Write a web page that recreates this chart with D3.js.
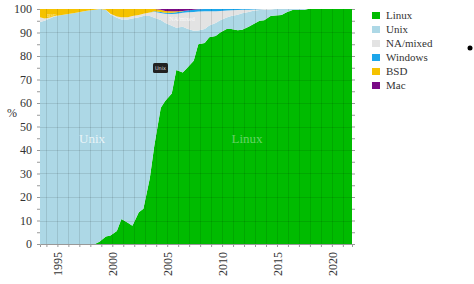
<!DOCTYPE html>
<html>
<head>
<meta charset="utf-8">
<script src="https://cdn.jsdelivr.net/npm/d3@7"></script>
<style>
  html, body { margin: 0; padding: 0; background: #fff; }
  svg { display: block; }
</style>
</head>
<body>
<div id="chart"></div>
<script>
const SERIF = "'Liberation Serif', 'Times New Roman', serif"

// TOP500 list editions (June / November)
const periods = [
  "1993-06", "1993-11", "1994-06", "1994-11", "1995-06", "1995-11", "1996-06", "1996-11",
  "1997-06", "1997-11", "1998-06", "1998-11", "1999-06", "1999-11", "2000-06", "2000-11",
  "2001-06", "2001-11", "2002-06", "2002-11", "2003-06", "2003-11", "2004-06", "2004-11",
  "2005-06", "2005-11", "2006-06", "2006-11", "2007-06", "2007-11", "2008-06", "2008-11",
  "2009-06", "2009-11", "2010-06", "2010-11", "2011-06", "2011-11", "2012-06", "2012-11",
  "2013-06", "2013-11", "2014-06", "2014-11", "2015-06", "2015-11", "2016-06", "2016-11",
  "2017-06", "2017-11", "2018-06", "2018-11", "2019-06", "2019-11", "2020-06", "2020-11",
  "2021-06", "2021-11"
]

// share of systems, percent
const linux = [
  0, 0, 0, 0, 0, 0, 0, 0, 0, 0, 0, 1, 3.2, 3.6, 5.5, 10.6,
  9, 7.8, 13.5, 15, 28, 42, 58, 61, 64, 74, 73, 75, 78, 85, 85.5, 88,
  88.5, 90, 91.5, 91.5, 91, 91.2, 92.5, 93.5, 95, 95.2, 97, 97.2, 97.4, 98.5, 99.6, 99.6,
  99.6, 100, 100, 100, 100, 100, 100, 100, 100, 100
]
const unix = [
  94.5, 95, 96.2, 97, 97.5, 97.8, 98.2, 98.5, 99, 99.4, 99.7, 99, 96.5, 94.1, 90.8, 84.9,
  86.5, 88.2, 83, 82, 69, 54.3, 37.3, 33, 28.9, 18, 19.4, 16.6, 12.7, 5.9, 6, 5,
  5.5, 5.2, 4.9, 5.5, 6.6, 7, 6.2, 5.8, 4.6, 4.6, 2.8, 2.8, 2.6, 1.5, 0.4, 0.4,
  0.4, 0, 0, 0, 0, 0, 0, 0, 0, 0
]
const naMixed = [
  2, 1, 0.3, 0, 0, 0, 0, 0, 0, 0, 0, 0, 0, 0.3, 0.5, 1,
  1, 1, 1, 1, 1.5, 2.5, 3, 4, 5, 6, 6, 7, 8, 8, 7.5, 6,
  5, 4, 3, 2.5, 2, 1.5, 1, 0.5, 0.3, 0.2, 0.2, 0, 0, 0, 0, 0,
  0, 0, 0, 0, 0, 0, 0, 0, 0, 0
]
const windows = [
  0, 0, 0, 0, 0, 0, 0, 0, 0, 0, 0, 0, 0, 0, 0, 0,
  0, 0, 0, 0, 0, 0.2, 0.4, 0.4, 0.5, 0.6, 0.6, 0.8, 1, 1, 1, 1,
  1, 0.8, 0.6, 0.5, 0.4, 0.3, 0.3, 0.2, 0.1, 0, 0, 0, 0, 0, 0, 0,
  0, 0, 0, 0, 0, 0, 0, 0, 0, 0
]
const bsd = [
  3.5, 4, 3.5, 3, 2.5, 2.2, 1.8, 1.5, 1, 0.6, 0.3, 0, 0.3, 2, 3.2, 3.5,
  3.5, 3, 2.5, 2, 1.5, 1, 1, 0.8, 0.6, 0.4, 0.2, 0, 0, 0, 0, 0,
  0, 0, 0, 0, 0, 0, 0, 0, 0, 0, 0, 0, 0, 0, 0, 0,
  0, 0, 0, 0, 0, 0, 0, 0, 0, 0
]
const mac = [
  0, 0, 0, 0, 0, 0, 0, 0, 0, 0, 0, 0, 0, 0, 0, 0,
  0, 0, 0, 0, 0, 0, 0.3, 0.8, 1, 1, 0.8, 0.6, 0.3, 0.1, 0, 0,
  0, 0, 0, 0, 0, 0, 0, 0, 0, 0, 0, 0, 0, 0, 0, 0,
  0, 0, 0, 0, 0, 0, 0, 0, 0, 0
]

const seriesNames = ["Linux", "Unix", "NA/mixed", "Windows", "BSD", "Mac"]
const seriesValues = [linux, unix, naMixed, windows, bsd, mac]
const seriesColors = ["#00bb00", "#add8e6", "#e3e3e3", "#1ca6ea", "#f5c200", "#7a0a86"]

const yTicks = [0, 10, 20, 30, 40, 50, 60, 70, 80, 90, 100]
const xLabelYears = [1995, 2000, 2005, 2010, 2015, 2020]

const width = 474
const height = 284
const margin = { top: 9, right: 122, bottom: 40, left: 40 }

// "1993-06" -> 1993.417
const toYear = p => {
  const [y, m] = p.split("-").map(Number)
  return y + (m - 1) / 12
}

const rows = periods.map((p, i) => {
  const row = { t: toYear(p) }
  seriesNames.forEach((name, k) => { row[name] = seriesValues[k][i] })
  return row
})

const x = d3.scaleLinear()
  .domain(d3.extent(rows, d => d.t))
  .range([margin.left, width - margin.right])

const y = d3.scaleLinear()
  .domain([0, 100])
  .range([height - margin.bottom, margin.top])

const layers = d3.stack().keys(seriesNames)(rows)

const area = d3.area()
  .x(d => x(d.data.t))
  .y0(d => y(d[0]))
  .y1(d => y(d[1]))

const svg = d3.select("#chart")
  .append("svg")
  .attr("width", width)
  .attr("height", height)
  .attr("font-family", SERIF)

svg.append("g")
  .selectAll("path")
  .data(layers)
  .join("path")
  .attr("d", area)
  .attr("fill", (d, i) => seriesColors[i])

// grid over the areas
const years = d3.range(1994, 2022)
const grid = svg.append("g")
  .attr("stroke", "#000")
  .attr("stroke-opacity", 0.1)
  .attr("stroke-width", 1)

grid.selectAll("line.v")
  .data(years)
  .join("line")
  .attr("class", "v")
  .attr("x1", d => Math.round(x(d)) + 0.5)
  .attr("x2", d => Math.round(x(d)) + 0.5)
  .attr("y1", y(0))
  .attr("y2", y(100))

grid.selectAll("line.h")
  .data(yTicks.slice(1, -1))
  .join("line")
  .attr("class", "h")
  .attr("x1", x.range()[0])
  .attr("x2", x.range()[1])
  .attr("y1", d => Math.round(y(d)) + 0.5)
  .attr("y2", d => Math.round(y(d)) + 0.5)

// y axis
const yAxis = svg.append("g")
  .attr("transform", `translate(${margin.left},0)`)
  .call(d3.axisLeft(y).tickValues(d3.range(0, 101, 5)).tickSize(3)
    .tickFormat(d => d % 10 === 0 ? d : ""))
  .attr("font-family", SERIF)
  .attr("font-size", 12)
yAxis.select(".domain").remove()
yAxis.selectAll(".tick line").attr("stroke", "#999")
yAxis.selectAll(".tick text")
  .attr("x", -8)
  .attr("fill", "#333")

// right side ticks
const yRight = svg.append("g")
  .attr("transform", `translate(${x.range()[1]},0)`)
  .call(d3.axisRight(y).tickValues(d3.range(0, 101, 5)).tickSize(3).tickFormat(""))
yRight.select(".domain").remove()
yRight.selectAll(".tick line").attr("stroke", "#999")

// x axis
const xAxis = svg.append("g")
  .attr("transform", `translate(0,${y(0)})`)
  .call(d3.axisBottom(x).tickValues(years).tickSize(3)
    .tickFormat(d => xLabelYears.includes(d) ? d : ""))
  .attr("font-family", SERIF)
  .attr("font-size", 12)
xAxis.select(".domain").attr("stroke", "#999")
xAxis.selectAll(".tick line").attr("stroke", "#999")
xAxis.selectAll(".tick text")
  .attr("transform", "rotate(-90)")
  .attr("text-anchor", "end")
  .attr("x", -8)
  .attr("y", 0)
  .attr("dy", "0.35em")
  .attr("fill", "#333")

svg.append("text")
  .attr("x", 12)
  .attr("y", 117)
  .attr("text-anchor", "middle")
  .attr("font-size", 12)
  .attr("fill", "#333")
  .text("%")

// labels inside the areas
svg.append("text")
  .attr("x", 92)
  .attr("y", 143)
  .attr("text-anchor", "middle")
  .attr("font-size", 13)
  .attr("fill", "#fff")
  .attr("fill-opacity", 0.75)
  .text("Unix")

svg.append("text")
  .attr("x", 247)
  .attr("y", 143)
  .attr("text-anchor", "middle")
  .attr("font-size", 13)
  .attr("fill", "#fff")
  .attr("fill-opacity", 0.4)
  .text("Linux")

svg.append("text")
  .attr("x", 182)
  .attr("y", 21)
  .attr("text-anchor", "middle")
  .attr("font-size", 6)
  .attr("fill", "#fff")
  .attr("fill-opacity", 0.8)
  .text("NA/mixed")

svg.append("text")
  .attr("x", 52)
  .attr("y", 17)
  .attr("text-anchor", "middle")
  .attr("font-size", 5)
  .attr("fill", "#fff")
  .attr("fill-opacity", 0.7)
  .text("BSD")

// hover tooltip left over in the screenshot
const tip = svg.append("g").attr("transform", "translate(153,63)")
tip.append("rect")
  .attr("width", 15)
  .attr("height", 10)
  .attr("rx", 1.5)
  .attr("fill", "#222")
tip.append("text")
  .attr("x", 7.5)
  .attr("y", 7)
  .attr("text-anchor", "middle")
  .attr("font-size", 5)
  .attr("font-family", "'DejaVu Sans', sans-serif")
  .attr("fill", "#ddd")
  .text("Unix")

// legend
const legend = svg.append("g").attr("transform", "translate(372,12)")
const item = legend.selectAll("g")
  .data(seriesNames)
  .join("g")
  .attr("transform", (d, i) => `translate(0,${i * 14})`)
item.append("rect")
  .attr("width", 8)
  .attr("height", 7)
  .attr("fill", (d, i) => seriesColors[i])
item.append("text")
  .attr("x", 14)
  .attr("y", 7)
  .attr("font-size", 11)
  .attr("fill", "#333")
  .text(d => d)

svg.append("circle")
  .attr("cx", 470)
  .attr("cy", 48)
  .attr("r", 2.5)
  .attr("fill", "#000")
</script>
</body>
</html>
